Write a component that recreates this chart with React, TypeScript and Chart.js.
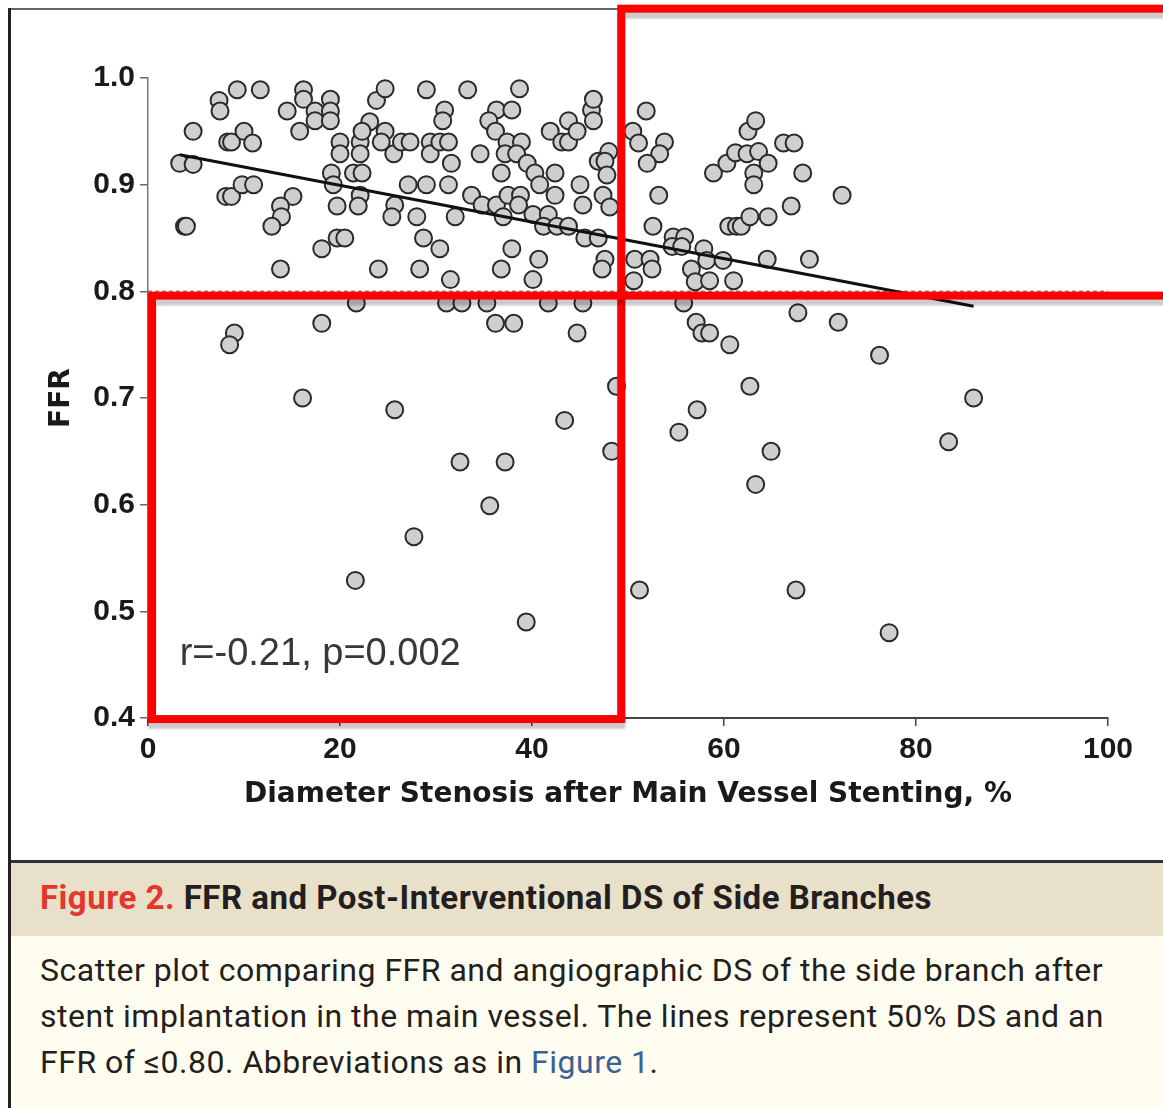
import React, { useEffect, useRef } from "react";
import { Chart, registerables } from "chart.js";

Chart.register(...registerables);

// Side-branch measurements: DS = diameter stenosis after main vessel stenting (%),
// FFR = fractional flow reserve. Grouped by region of the plot for readability.
const DS_UPPER_LEFT = [3.3, 4.7, 3.8, 4.0, 4.7, 7.4, 7.5, 9.3, 11.7, 8.3, 8.7, 10.0, 10.9, 8.1, 8.7, 9.8, 11.0, 14.5, 16.2, 16.2, 17.4, 17.4, 19.0, 19.0, 19.0, 15.8, 20.0, 20.0, 22.1, 22.1, 23.1, 22.3, 23.8, 19.1, 19.3, 21.4, 22.3, 22.1, 21.9, 19.7, 15.1, 13.8, 13.9, 12.9, 18.1, 19.7, 20.5, 13.8, 24.0];
const FFR_UPPER_LEFT = [0.920, 0.919, 0.861, 0.861, 0.950, 0.979, 0.969, 0.989, 0.989, 0.940, 0.940, 0.950, 0.939, 0.889, 0.889, 0.900, 0.900, 0.969, 0.989, 0.980, 0.969, 0.960, 0.980, 0.969, 0.960, 0.950, 0.940, 0.929, 0.940, 0.929, 0.959, 0.950, 0.979, 0.911, 0.900, 0.911, 0.911, 0.890, 0.880, 0.880, 0.889, 0.880, 0.870, 0.861, 0.840, 0.850, 0.850, 0.821, 0.821];

const DS_UPPER_MID = [24.7, 29.0, 33.3, 38.7, 30.9, 30.7, 36.3, 37.9, 35.5, 24.7, 24.3, 25.6, 26.4, 27.3, 29.4, 29.4, 30.4, 31.3, 31.6, 34.6, 36.2, 37.4, 38.9, 37.2, 38.4, 39.5, 40.3, 40.8, 36.8, 41.9, 43.1, 43.8, 43.8, 44.7, 42.4, 42.4, 46.2, 46.4, 46.4, 48.0, 46.9, 47.6, 47.8, 45.0, 45.3, 47.4, 48.1, 27.1, 29.0, 31.3, 33.7, 34.8, 36.3, 37.5, 38.8, 38.6, 37.0, 40.1, 41.7, 41.2, 42.6, 43.8, 25.7, 25.4, 28.0, 32.0, 28.7, 30.4, 37.9, 40.7, 45.5, 46.9, 47.6, 47.3, 28.3, 31.5, 36.8, 40.1];
const FFR_UPPER_MID = [0.990, 0.989, 0.989, 0.990, 0.970, 0.960, 0.970, 0.970, 0.960, 0.950, 0.940, 0.929, 0.940, 0.940, 0.940, 0.929, 0.940, 0.940, 0.920, 0.929, 0.950, 0.940, 0.940, 0.929, 0.929, 0.920, 0.911, 0.900, 0.911, 0.950, 0.940, 0.940, 0.960, 0.950, 0.911, 0.890, 0.970, 0.980, 0.960, 0.931, 0.922, 0.922, 0.909, 0.900, 0.881, 0.890, 0.879, 0.900, 0.900, 0.900, 0.890, 0.881, 0.881, 0.890, 0.890, 0.881, 0.870, 0.872, 0.872, 0.861, 0.861, 0.861, 0.881, 0.870, 0.870, 0.870, 0.850, 0.840, 0.840, 0.830, 0.850, 0.850, 0.830, 0.821, 0.821, 0.811, 0.821, 0.811];

const DS_LOWER_LEFT = [21.7, 31.1, 32.7, 35.3, 41.7, 45.3, 18.1, 36.2, 38.1, 44.7, 9.0, 8.5, 16.1, 25.7, 48.8, 43.4, 48.3, 32.5, 37.2, 35.6, 27.7, 21.6, 39.4];
const FFR_LOWER_LEFT = [0.789, 0.789, 0.789, 0.789, 0.789, 0.789, 0.770, 0.770, 0.770, 0.761, 0.761, 0.750, 0.700, 0.689, 0.711, 0.679, 0.650, 0.640, 0.640, 0.599, 0.570, 0.529, 0.490];

const DS_UPPER_RIGHT = [51.9, 50.5, 51.1, 53.8, 53.3, 52.0, 53.2, 52.6, 54.7, 55.9, 54.6, 55.6, 57.9, 58.2, 59.9, 50.7, 52.3, 52.5, 50.6, 56.6, 57.0, 58.5, 61.0, 64.5, 68.9, 58.9, 60.3, 61.2, 62.4, 63.6, 64.6, 62.5, 63.3, 63.1, 63.1, 66.2, 67.3, 68.2, 67.0, 72.3, 60.5, 61.3, 61.8, 62.7, 64.6];
const FFR_UPPER_RIGHT = [0.969, 0.950, 0.939, 0.940, 0.929, 0.920, 0.890, 0.861, 0.851, 0.851, 0.842, 0.842, 0.840, 0.829, 0.829, 0.830, 0.830, 0.821, 0.810, 0.821, 0.809, 0.810, 0.810, 0.830, 0.830, 0.911, 0.920, 0.930, 0.929, 0.931, 0.920, 0.950, 0.960, 0.911, 0.900, 0.939, 0.939, 0.911, 0.880, 0.890, 0.861, 0.861, 0.861, 0.870, 0.870];

const DS_LOWER_RIGHT = [55.8, 67.7, 71.9, 57.1, 57.7, 58.5, 60.6, 76.2, 62.7, 86.0, 57.2, 55.3, 64.9, 83.4, 63.3, 51.2, 67.5, 77.2];
const FFR_LOWER_RIGHT = [0.789, 0.780, 0.771, 0.771, 0.761, 0.761, 0.750, 0.740, 0.711, 0.700, 0.689, 0.668, 0.650, 0.659, 0.619, 0.520, 0.520, 0.480];

// Linear fit end points and the FFR 0.80 reference line.
const FIT_DS = [3.3, 86.0];
const FIT_FFR = [0.928, 0.786];
const CUTOFF_DS = [0, 100];
const CUTOFF_FFR = [0.8, 0.8];

// Axis ticks and text.
const X_TICKS = [0, 20, 40, 60, 80, 100];
const Y_TICKS = [0.4, 0.5, 0.6, 0.7, 0.8, 0.9, 1.0];
const X_TITLE = "Diameter Stenosis after Main Vessel Stenting, %";
const Y_TITLE = "FFR";
const STATS_LABEL = "r=-0.21, p=0.002";

// Highlighted quadrants (data units): split at DS 50% / FFR 0.80.
const BOX_DS_SPLIT = 49.3;
const BOX_FFR_SPLIT = 0.796;
const BOX_LOWER_LEFT = { dsMin: 0.42, ffrMin: 0.399 };
const BOX_UPPER_RIGHT = { dsMax: 107, ffrMax: 1.065 };

const zip = (xs: number[], ys: number[]) => xs.map((x, i) => ({ x, y: ys[i] }));

const overlayPlugin = {
  id: "overlay",
  afterDatasetsDraw(chart: any) {
    const { ctx, scales } = chart;
    const xs = scales.x;
    const ys = scales.y;
    ctx.save();
    ctx.font = "38px 'Liberation Sans', Arial, sans-serif";
    ctx.fillStyle = "#383838";
    ctx.textBaseline = "alphabetic";
    ctx.textAlign = "left";
    ctx.fillText(STATS_LABEL, xs.getPixelForValue(3.3), ys.getPixelForValue(0.45));
    ctx.restore();
  },
  afterDraw(chart: any) {
    const { ctx, scales } = chart;
    const px = (v: number) => scales.x.getPixelForValue(v);
    const py = (v: number) => scales.y.getPixelForValue(v);
    ctx.save();
    ctx.strokeStyle = "#ff0000";
    ctx.lineWidth = 8;
    ctx.shadowColor = "rgba(0,0,0,0.2)";
    ctx.shadowOffsetY = 6;
    ctx.shadowBlur = 2;
    const l1 = px(BOX_LOWER_LEFT.dsMin);
    const t1 = py(BOX_FFR_SPLIT);
    ctx.strokeRect(l1, t1, px(BOX_DS_SPLIT) - l1, py(BOX_LOWER_LEFT.ffrMin) - t1);
    const l2 = px(BOX_DS_SPLIT);
    const t2 = py(BOX_UPPER_RIGHT.ffrMax);
    ctx.strokeRect(l2, t2, px(BOX_UPPER_RIGHT.dsMax) - l2, py(BOX_FFR_SPLIT) - t2);
    ctx.restore();
  },
};

function ScatterChart() {
  const canvasRef = useRef<HTMLCanvasElement | null>(null);

  useEffect(() => {
    const canvas = canvasRef.current;
    if (!canvas) return;
    const points = [
      ...zip(DS_UPPER_LEFT, FFR_UPPER_LEFT),
      ...zip(DS_UPPER_MID, FFR_UPPER_MID),
      ...zip(DS_LOWER_LEFT, FFR_LOWER_LEFT),
      ...zip(DS_UPPER_RIGHT, FFR_UPPER_RIGHT),
      ...zip(DS_LOWER_RIGHT, FFR_LOWER_RIGHT),
    ];
    const tickFont = { family: "'Liberation Sans', Arial, sans-serif", weight: "bold" as const, size: 30 };
    const titleFont = { family: "'DejaVu Sans', sans-serif", weight: "bold" as const, size: 28 };

    const chart = new Chart(canvas, {
      type: "scatter",
      data: {
        datasets: [
          {
            label: "FFR 0.80",
            data: zip(CUTOFF_DS, CUTOFF_FFR),
            showLine: true,
            pointRadius: 0,
            borderColor: "#8c8c8c",
            borderWidth: 1.5,
            borderDash: [4, 3],
            order: 3,
          },
          {
            label: "Side branches",
            data: points,
            pointRadius: 8.5,
            pointHoverRadius: 8.5,
            backgroundColor: "#cfcfcf",
            borderColor: "#2a2a2a",
            borderWidth: 2,
            order: 2,
          },
          {
            label: "Linear fit",
            data: zip(FIT_DS, FIT_FFR),
            showLine: true,
            pointRadius: 0,
            borderColor: "#111111",
            borderWidth: 3,
            order: 1,
          },
        ],
      },
      options: {
        responsive: false,
        animation: false,
        devicePixelRatio: 1,
        layout: { padding: { left: 0, right: 55, top: 78, bottom: 0 } },
        plugins: { legend: { display: false }, tooltip: { enabled: false } },
        scales: {
          x: {
            type: "linear",
            min: 0,
            max: 100,
            afterFit: (s: any) => {
              s.height = 132;
            },
            afterBuildTicks: (s: any) => {
              s.ticks = X_TICKS.map((value) => ({ value }));
            },
            grid: { display: true, drawOnChartArea: false, drawTicks: true, tickLength: 8, color: "#444", lineWidth: 1.5 },
            border: { display: true, color: "#444", width: 2 },
            ticks: { padding: 6, color: "#1a1a1a", font: tickFont, callback: (v: any) => String(v) },
            title: { display: true, text: X_TITLE, color: "#1a1a1a", font: titleFont, padding: { top: 0, bottom: 38 } },
          },
          y: {
            type: "linear",
            min: 0.4,
            max: 1.0,
            afterFit: (s: any) => {
              s.width = 148;
            },
            afterBuildTicks: (s: any) => {
              s.ticks = Y_TICKS.map((value) => ({ value }));
            },
            grid: { display: true, drawOnChartArea: false, drawTicks: true, tickLength: 8, color: "#666", lineWidth: 1.5 },
            border: { display: true, color: "#777", width: 1.5 },
            ticks: { padding: 5, color: "#1a1a1a", font: tickFont, callback: (v: any) => Number(v).toFixed(1) },
            title: { display: true, text: Y_TITLE, color: "#1a1a1a", font: titleFont, padding: { top: 45, bottom: 0 } },
          },
        },
      },
      plugins: [overlayPlugin],
    });
    return () => chart.destroy();
  }, []);

  return <canvas ref={canvasRef} width={1163} height={850} style={{ position: "absolute", left: 0, top: 0 }} />;
}

export default function App() {
  const captionFont = "Roboto, 'Noto Sans', sans-serif";
  return (
    <div style={{ position: "absolute", left: 0, top: 0, width: 1163, height: 1108, background: "#ffffff", overflow: "hidden" }}>
      {/* figure frame */}
      <div style={{ position: "absolute", left: 10, top: 8, right: 0, height: 2, background: "#666" }} />
      <div style={{ position: "absolute", left: 8, top: 8, width: 3, bottom: 0, background: "#222" }} />
      {/* caption */}
      <div style={{ position: "absolute", left: 11, top: 860, right: 0, height: 3, background: "#333" }} />
      <div style={{ position: "absolute", left: 11, top: 863, right: 0, height: 73, background: "#e8e0c9" }}>
        <div style={{ position: "absolute", left: 29, top: 15, fontFamily: captionFont, fontWeight: 700, fontSize: 33, letterSpacing: "0.5px", lineHeight: "40px", color: "#231f20", whiteSpace: "nowrap" }}>
          <span style={{ color: "#e2372a" }}>Figure 2.</span> FFR and Post-Interventional DS of Side Branches
        </div>
      </div>
      <div style={{ position: "absolute", left: 11, top: 936, right: 0, bottom: 0, background: "#fffdf0" }}>
        <div style={{ position: "absolute", left: 29, top: 11, fontFamily: captionFont, fontSize: 32, letterSpacing: "0.5px", lineHeight: "46px", color: "#231f20", whiteSpace: "nowrap" }}>
          <div>Scatter plot comparing FFR and angiographic DS of the side branch after</div>
          <div>stent implantation in the main vessel. The lines represent 50% DS and an</div>
          <div>
            FFR of ≤0.80. Abbreviations as in <span style={{ color: "#3e5f95" }}>Figure 1</span>.
          </div>
        </div>
      </div>
      <ScatterChart />
    </div>
  );
}
